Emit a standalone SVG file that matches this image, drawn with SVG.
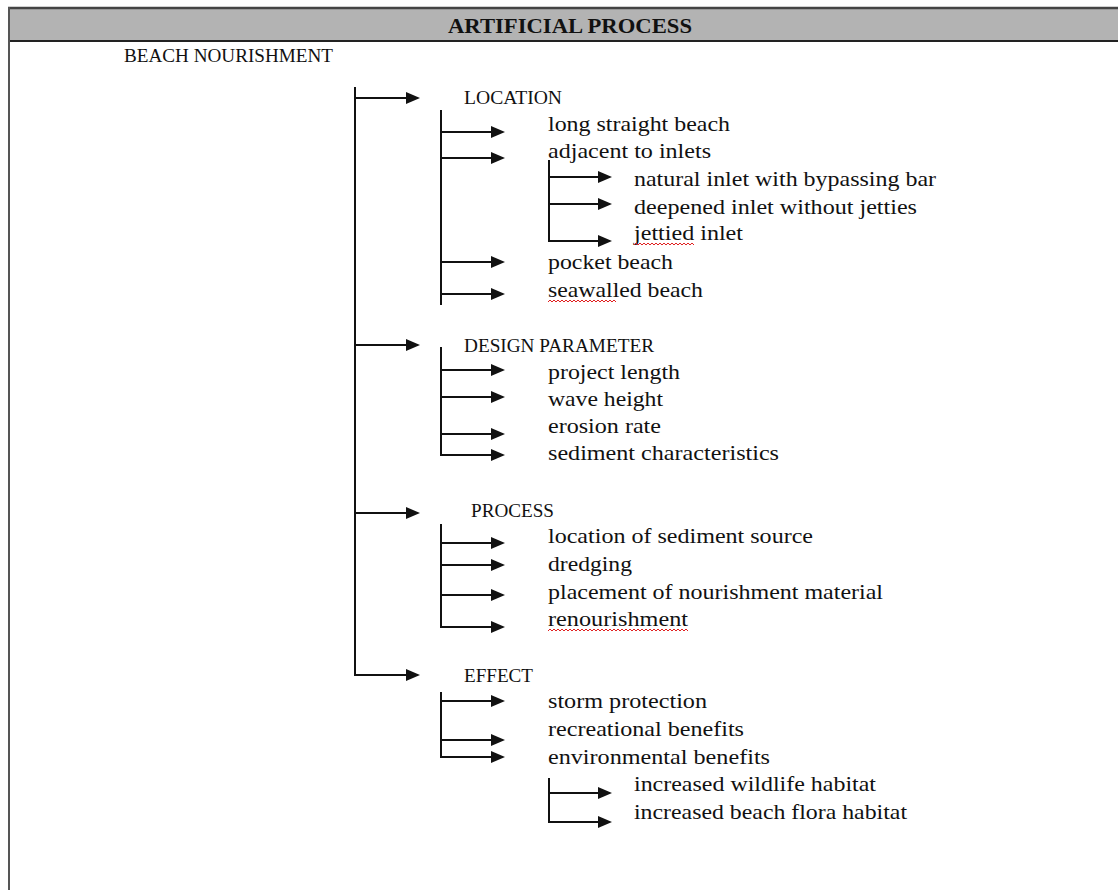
<svg xmlns="http://www.w3.org/2000/svg" width="1118" height="890" viewBox="0 0 1118 890">
<style>
.t{font-family:"Liberation Serif","Times New Roman",serif;fill:#111;}
.h{font-size:18px;}
.n{font-size:21.5px;}
.b{font-size:21px;font-weight:bold;}
.ln{stroke:#111;stroke-width:2;fill:none;}
.ar{stroke:#111;stroke-width:2;fill:none;marker-end:url(#ah);}
.sq{stroke:#e02020;stroke-width:1;fill:none;}
</style>
<defs>
<marker id="ah" markerUnits="userSpaceOnUse" markerWidth="14" markerHeight="12" refX="0" refY="6" orient="auto">
<path d="M0,0 L14,6 L0,12 z" fill="#111"/>
</marker>
</defs>
<rect width="1118" height="890" fill="#fff"/>
<g id="frame">
<rect x="9" y="8" width="1112" height="33" fill="#b3b3b3"/>
<line x1="8" y1="8" x2="1118" y2="8" stroke="#444" stroke-width="2.5"/>
<line x1="9" y1="41" x2="1118" y2="41" stroke="#222" stroke-width="2"/>
<line x1="9" y1="7" x2="9" y2="890" stroke="#555" stroke-width="2"/>
</g>
<g id="title"><text class="t b" x="448" y="33" textLength="244" lengthAdjust="spacingAndGlyphs">ARTIFICIAL PROCESS</text></g>
<g id="root"><text class="t h" x="124" y="62" textLength="209" lengthAdjust="spacingAndGlyphs">BEACH NOURISHMENT</text></g>

<g id="connectors">
<line class="ln" x1="355" y1="87" x2="355" y2="676"/>
<line class="ar" x1="355" y1="98" x2="406" y2="98"/>
<line class="ar" x1="355" y1="345" x2="406" y2="345"/>
<line class="ar" x1="355" y1="513" x2="406" y2="513"/>
<line class="ar" x1="355" y1="675" x2="406" y2="675"/>

<line class="ln" x1="441" y1="110" x2="441" y2="305"/>
<line class="ar" x1="441" y1="132" x2="491" y2="132"/>
<line class="ar" x1="441" y1="158" x2="491" y2="158"/>
<line class="ar" x1="441" y1="262" x2="491" y2="262"/>
<line class="ar" x1="441" y1="294" x2="491" y2="294"/>

<line class="ln" x1="549" y1="160" x2="549" y2="242"/>
<line class="ar" x1="549" y1="177" x2="598" y2="177"/>
<line class="ar" x1="549" y1="204" x2="598" y2="204"/>
<line class="ar" x1="548" y1="241" x2="598" y2="241"/>

<line class="ln" x1="441" y1="347" x2="441" y2="456"/>
<line class="ar" x1="441" y1="370" x2="491" y2="370"/>
<line class="ar" x1="441" y1="397" x2="491" y2="397"/>
<line class="ar" x1="441" y1="434" x2="491" y2="434"/>
<line class="ar" x1="440" y1="455" x2="491" y2="455"/>

<line class="ln" x1="441" y1="524" x2="441" y2="628"/>
<line class="ar" x1="441" y1="543" x2="491" y2="543"/>
<line class="ar" x1="441" y1="565" x2="491" y2="565"/>
<line class="ar" x1="441" y1="595" x2="491" y2="595"/>
<line class="ar" x1="440" y1="627" x2="491" y2="627"/>

<line class="ln" x1="441" y1="692" x2="441" y2="758"/>
<line class="ar" x1="441" y1="701" x2="491" y2="701"/>
<line class="ar" x1="441" y1="740" x2="491" y2="740"/>
<line class="ar" x1="440" y1="757" x2="491" y2="757"/>

<line class="ln" x1="549" y1="778" x2="549" y2="823"/>
<line class="ar" x1="549" y1="793" x2="598" y2="793"/>
<line class="ar" x1="548" y1="822" x2="598" y2="822"/>
</g>

<g id="location"><text class="t h" x="464" y="104" textLength="98" lengthAdjust="spacingAndGlyphs">LOCATION</text></g>
<g id="long-straight-beach"><text class="t n" x="548" y="131" textLength="182" lengthAdjust="spacingAndGlyphs">long straight beach</text></g>
<g id="adjacent-to-inlets"><text class="t n" x="548" y="158" textLength="163" lengthAdjust="spacingAndGlyphs">adjacent to inlets</text></g>
<g id="natural-inlet"><text class="t n" x="634" y="186" textLength="302" lengthAdjust="spacingAndGlyphs">natural inlet with bypassing bar</text></g>
<g id="deepened-inlet"><text class="t n" x="634" y="214" textLength="283" lengthAdjust="spacingAndGlyphs">deepened inlet without jetties</text></g>
<g id="jettied-inlet"><text class="t n" x="634" y="240" textLength="109" lengthAdjust="spacingAndGlyphs">jettied inlet</text>
<path class="sq" d="M634,245 l2,-2 l2,2 l2,-2 l2,2 l2,-2 l2,2 l2,-2 l2,2 l2,-2 l2,2  l2,-2 l2,2 l2,-2 l2,2 l2,-2 l2,2 l2,-2 l2,2 l2,-2 l2,2  l2,-2 l2,2 l2,-2 l2,2 l2,-2 l2,2 l2,-2 l2,2 l2,-2 l2,2"/></g>
<g id="pocket-beach"><text class="t n" x="548" y="269" textLength="125" lengthAdjust="spacingAndGlyphs">pocket beach</text></g>
<g id="seawalled-beach"><text class="t n" x="548" y="297" textLength="155" lengthAdjust="spacingAndGlyphs">seawalled beach</text>
<path class="sq" d="M548,302 l2,-2 l2,2 l2,-2 l2,2 l2,-2 l2,2 l2,-2 l2,2 l2,-2 l2,2  l2,-2 l2,2 l2,-2 l2,2 l2,-2 l2,2 l2,-2 l2,2 l2,-2 l2,2  l2,-2 l2,2 l2,-2 l2,2 l2,-2 l2,2 l2,-2 l2,2 l2,-2 l2,2  l2,-2 l2,2 l2,-2 l2,2"/></g>

<g id="design-parameter"><text class="t h" x="464" y="352" textLength="190" lengthAdjust="spacingAndGlyphs">DESIGN PARAMETER</text></g>
<g id="project-length"><text class="t n" x="548" y="379" textLength="132" lengthAdjust="spacingAndGlyphs">project length</text></g>
<g id="wave-height"><text class="t n" x="548" y="406" textLength="115" lengthAdjust="spacingAndGlyphs">wave height</text></g>
<g id="erosion-rate"><text class="t n" x="548" y="433" textLength="113" lengthAdjust="spacingAndGlyphs">erosion rate</text></g>
<g id="sediment-characteristics"><text class="t n" x="548" y="460" textLength="231" lengthAdjust="spacingAndGlyphs">sediment characteristics</text></g>

<g id="process"><text class="t h" x="471" y="517" textLength="83" lengthAdjust="spacingAndGlyphs">PROCESS</text></g>
<g id="location-of-sediment-source"><text class="t n" x="548" y="543" textLength="265" lengthAdjust="spacingAndGlyphs">location of sediment source</text></g>
<g id="dredging"><text class="t n" x="548" y="571" textLength="84" lengthAdjust="spacingAndGlyphs">dredging</text></g>
<g id="placement"><text class="t n" x="548" y="599" textLength="335" lengthAdjust="spacingAndGlyphs">placement of nourishment material</text></g>
<g id="renourishment"><text class="t n" x="548" y="626" textLength="140" lengthAdjust="spacingAndGlyphs">renourishment</text>
<path class="sq" d="M548,631 l2,-2 l2,2 l2,-2 l2,2 l2,-2 l2,2 l2,-2 l2,2 l2,-2 l2,2  l2,-2 l2,2 l2,-2 l2,2 l2,-2 l2,2 l2,-2 l2,2 l2,-2 l2,2  l2,-2 l2,2 l2,-2 l2,2 l2,-2 l2,2 l2,-2 l2,2 l2,-2 l2,2  l2,-2 l2,2 l2,-2 l2,2 l2,-2 l2,2 l2,-2 l2,2 l2,-2 l2,2  l2,-2 l2,2 l2,-2 l2,2 l2,-2 l2,2 l2,-2 l2,2 l2,-2 l2,2  l2,-2 l2,2 l2,-2 l2,2 l2,-2 l2,2 l2,-2 l2,2 l2,-2 l2,2  l2,-2 l2,2 l2,-2 l2,2 l2,-2 l2,2 l2,-2 l2,2 l2,-2 l2,2"/></g>

<g id="effect"><text class="t h" x="464" y="682" textLength="69" lengthAdjust="spacingAndGlyphs">EFFECT</text></g>
<g id="storm-protection"><text class="t n" x="548" y="708" textLength="159" lengthAdjust="spacingAndGlyphs">storm protection</text></g>
<g id="recreational-benefits"><text class="t n" x="548" y="736" textLength="196" lengthAdjust="spacingAndGlyphs">recreational benefits</text></g>
<g id="environmental-benefits"><text class="t n" x="548" y="764" textLength="222" lengthAdjust="spacingAndGlyphs">environmental benefits</text></g>
<g id="increased-wildlife-habitat"><text class="t n" x="634" y="791" textLength="242" lengthAdjust="spacingAndGlyphs">increased wildlife habitat</text></g>
<g id="increased-beach-flora-habitat"><text class="t n" x="634" y="819" textLength="273" lengthAdjust="spacingAndGlyphs">increased beach flora habitat</text></g>
</svg>
